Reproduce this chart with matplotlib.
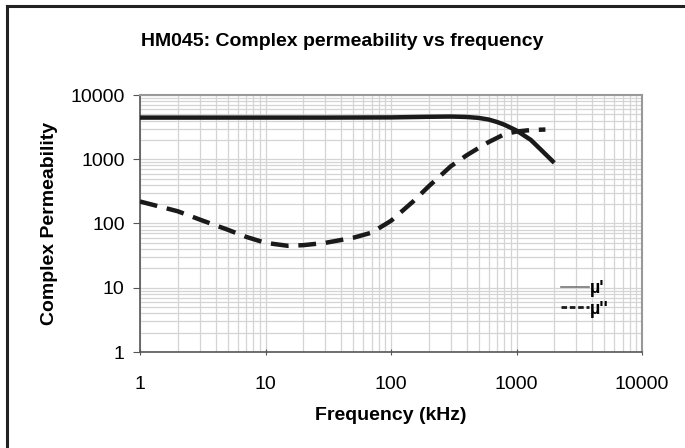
import numpy as np
import matplotlib
matplotlib.use("Agg")
import matplotlib.pyplot as plt
from matplotlib.lines import Line2D
from matplotlib.ticker import LogLocator, NullFormatter, FixedLocator

plt.rcParams['font.family'] = ['Liberation Sans', 'DejaVu Sans']

freq_real = [1, 3, 10, 30, 100, 200, 300, 400, 500, 600, 700, 800, 1000, 1300, 1600, 2000]
mu_real = [4450, 4450, 4450, 4450, 4480, 4580, 4620, 4550, 4400, 4150, 3800, 3450, 2800, 2000, 1350, 880]

freq_imag = [1, 2, 3, 5, 7, 10, 15, 20, 30, 50, 70, 100, 150, 200, 300, 400, 500, 600, 700, 800, 1000, 1300, 1700]
mu_imag = [220, 155, 115, 80, 62, 50, 45, 46, 50, 60, 72, 110, 220, 380, 780, 1150, 1500, 1850, 2150, 2450, 2700, 2850, 2900]

xticks = [1, 10, 100, 1000, 10000]
yticks = [1, 10, 100, 1000, 10000]

fig = plt.figure(figsize=(6.85, 4.48), dpi=100)
ax = fig.add_axes([140 / 685, 1 - 352 / 448, 502 / 685, 257 / 448])

ax.plot(freq_real, mu_real, color='#1a1a1a', lw=3.2, solid_capstyle='butt', zorder=3)
ax.plot(freq_imag, mu_imag, color='#1a1a1a', lw=3.2, dashes=(4, 2.2), zorder=3)

ax.set_xscale('log')
ax.set_yscale('log')
ax.set_xlim(1, 10000)
ax.set_ylim(1, 10000)
ax.xaxis.set_major_locator(FixedLocator(xticks))
ax.yaxis.set_major_locator(FixedLocator(yticks))
ax.xaxis.set_minor_locator(LogLocator(base=10, subs=np.arange(2, 10)))
ax.yaxis.set_minor_locator(LogLocator(base=10, subs=np.arange(2, 10)))
ax.xaxis.set_minor_formatter(NullFormatter())
ax.yaxis.set_minor_formatter(NullFormatter())
ax.set_xticklabels([str(t) for t in xticks])
ax.set_yticklabels([str(t) for t in yticks])

ax.grid(True, which='both', color='#d4d4d4', lw=0.9)
ax.set_axisbelow(True)

ax.tick_params(which='minor', length=0)
ax.tick_params(axis='x', which='major', length=4, direction='inout', color='#555555', labelsize=14, pad=15)
ax.tick_params(axis='y', which='major', length=5, direction='out', color='#555555', labelsize=14, pad=6)

for s in ['top', 'right']:
    ax.spines[s].set_color('#999999')
    ax.spines[s].set_linewidth(1.5)
for s in ['left', 'bottom']:
    ax.spines[s].set_color('#555555')
    ax.spines[s].set_linewidth(1.2)

ax.set_xlabel('Frequency (kHz)', fontsize=14, fontweight='bold', labelpad=10)
ax.set_ylabel('Complex Permeability', fontsize=14, fontweight='bold', labelpad=9)
fig.text(0.5, 1 - 41 / 448, 'HM045: Complex permeability vs frequency', ha='center', va='center',
         fontsize=14, fontweight='bold')

handles = [Line2D([], [], color='#777777', lw=1.2),
           Line2D([], [], color='#1a1a1a', lw=2, dashes=(2, 1))]
ax.legend(handles, ["\u00b5'", "\u00b5''"], loc='lower right', bbox_to_anchor=(0.965, 0.07),
          frameon=False, handlelength=1.6, handletextpad=0.0, labelspacing=0.2,
          prop={'weight': 'bold', 'size': 13})

# outer frame (top and left edges only visible)
fig.add_artist(Line2D([7 / 685, 7 / 685], [0, 1 - 6 / 448], color='#222222', lw=2.2, transform=fig.transFigure))
fig.add_artist(Line2D([7 / 685, 1], [1 - 6 / 448, 1 - 6 / 448], color='#222222', lw=2.2, transform=fig.transFigure))

fig.savefig('out.png', dpi=100)
